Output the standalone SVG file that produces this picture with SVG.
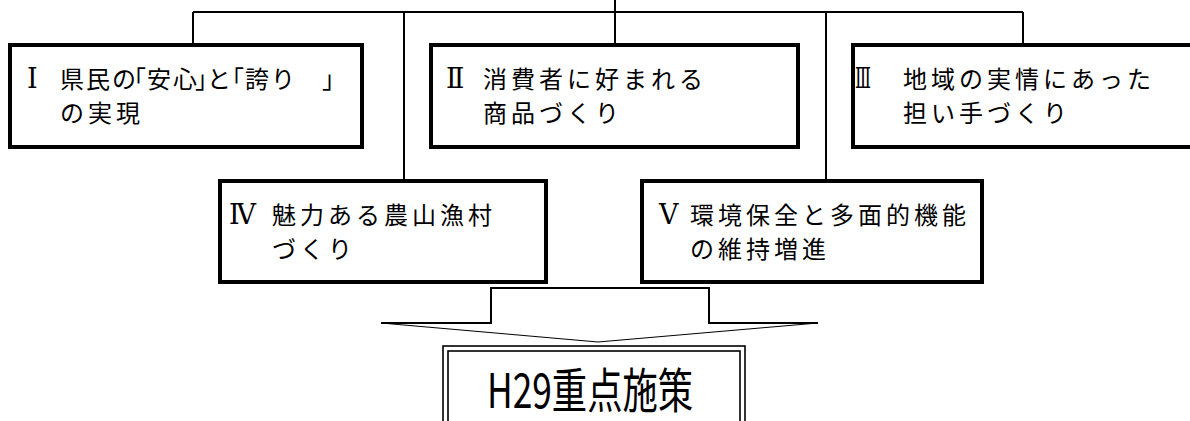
<svg xmlns="http://www.w3.org/2000/svg" width="1190" height="421" viewBox="0 0 1190 421">
<style>
.box{fill:#fff;stroke:#000;stroke-width:4}
.con{fill:none;stroke:#000;stroke-width:2}
.thin{fill:none;stroke:#000;stroke-width:1}
.t{font-family:"Noto Sans CJK JP","Noto Sans CJK SC",sans-serif;font-size:24px;fill:#000;letter-spacing:4px}
.n{font-family:"DejaVu Serif","Noto Sans CJK JP",serif;font-size:27px;fill:#000}
.big{font-family:"Noto Sans CJK JP","Noto Sans CJK SC",sans-serif;font-size:48px;fill:#000}
</style>
<rect width="1190" height="421" fill="#fff"/>
<g id="connectors">
<line class="con" x1="615" y1="0" x2="615" y2="45"/>
<line class="con" x1="193" y1="12" x2="1023" y2="12"/>
<line class="con" x1="193" y1="12" x2="193" y2="45"/>
<line class="con" x1="404" y1="12" x2="404" y2="181"/>
<line class="con" x1="826" y1="12" x2="826" y2="181"/>
<line class="con" x1="1023" y1="12" x2="1023" y2="45"/>
</g>
<g id="node1">
<rect class="box" x="10" y="45" width="352" height="102"/>
<text class="n" x="27" y="88">Ⅰ</text>
<text class="t" x="60 86 112 122 147 173 195 207 220 245 271 322" y="88" style="letter-spacing:0">県民の「安心」と「誇り」</text>
<text class="t" x="60" y="122">の実現</text>
</g>
<g id="node2">
<rect class="box" x="431" y="45" width="367" height="102"/>
<text class="n" x="446" y="88">Ⅱ</text>
<text class="t" x="483" y="88">消費者に好まれる</text>
<text class="t" x="483" y="122">商品づくり</text>
</g>
<g id="node3">
<rect class="box" x="853" y="45" width="345" height="102"/>
<text class="n" x="855" y="88" textLength="16" lengthAdjust="spacingAndGlyphs">Ⅲ</text>
<text class="t" x="903" y="88">地域の実情にあった</text>
<text class="t" x="903" y="122">担い手づくり</text>
</g>
<g id="node4">
<rect class="box" x="220" y="181" width="326" height="101"/>
<text class="n" x="229" y="224">Ⅳ</text>
<text class="t" x="272" y="224">魅力ある農山漁村</text>
<text class="t" x="272" y="258">づくり</text>
</g>
<g id="node5">
<rect class="box" x="642" y="181" width="340" height="101"/>
<text class="n" x="659" y="224">Ⅴ</text>
<text class="t" x="690" y="224">環境保全と多面的機能</text>
<text class="t" x="690" y="258">の維持増進</text>
</g>
<g id="arrow">
<polyline class="con" points="381,323 491,323 491,288 709,288 709,323 818,323"/>
<polyline class="thin" points="381,323 598,342 818,323"/>
</g>
<g id="node6">
<rect x="443" y="346" width="302" height="100" fill="#fff" stroke="#000" stroke-width="1.6"/>
<rect x="448" y="351" width="292" height="100" fill="none" stroke="#000" stroke-width="1.6"/>
<text class="big" x="487" y="408" textLength="206" lengthAdjust="spacingAndGlyphs">H29重点施策</text>
</g>
</svg>
